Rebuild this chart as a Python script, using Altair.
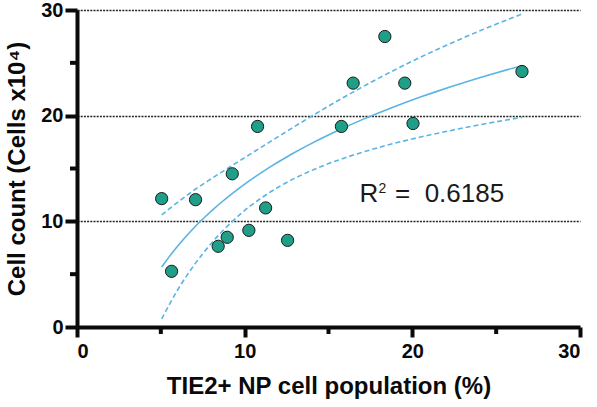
import altair as alt
import pandas as pd

# Data points
x_pct = [5.05, 5.64, 7.07, 9.26, 8.42, 8.96, 10.25, 10.77, 11.25, 12.56,
         15.77, 16.47, 18.36, 19.55, 20.04, 26.54]
cells = [12.15, 5.27, 12.05, 14.5, 7.64, 8.49, 9.15, 18.98, 11.27, 8.2,
         18.98, 23.08, 27.49, 23.08, 19.26, 24.18]

# 95% confidence band
band_x = [5.05, 6, 7, 8, 9, 10, 11, 12, 14, 16, 18, 20, 22, 24, 26.54]
band_upper = [10.6, 11.8, 12.97, 14.02, 15.03, 16.03, 17.02, 18.01, 19.96,
              21.82, 23.55, 25.16, 26.64, 28.01, 29.62]
band_lower = [0.76, 3.5, 5.89, 7.9, 9.59, 11.03, 12.22, 13.23, 14.82,
              16.02, 16.99, 17.8, 18.5, 19.13, 19.84]

# Axis ticks
major_ticks = [0, 10, 20, 30]
minor_ticks = [5, 15, 25]

r2_main = "R"
r2_sup = "2"
r2_value = "=\u00a0\u00a00.6185"

FONT = "Liberation Sans"
LINE = "#5ab4e3"
DOT = "#1f9e88"
INK = "#0a0a0a"

pts = pd.DataFrame({"x": x_pct, "y": cells})
band = pd.DataFrame({"x": band_x, "upper": band_upper, "lower": band_lower})
minor = pd.DataFrame({"v": minor_ticks})

x_scale = alt.Scale(domain=[0, 30], nice=False, zero=False)
y_scale = alt.Scale(domain=[0, 30], nice=False, zero=False)

AX_STYLE = dict(
    domainColor=INK, domainWidth=4, tickColor=INK, tickWidth=4,
    labelFont=FONT, labelFontSize=20, labelFontWeight="bold", labelColor=INK,
    titleFont=FONT, titleFontSize=24, titleFontWeight="bold", titleColor=INK,
)

x_axis = alt.Axis(
    values=major_ticks,
    title="TIE2+ NP cell population (%)",
    grid=False,
    tickSize=10,
    labelPadding=4,
    titlePadding=13,
    **AX_STYLE,
)
y_axis = alt.Axis(
    values=major_ticks,
    title="Cell count (Cells x10\u2074)",
    grid=True,
    gridColor="#222222", gridWidth=1.5, gridDash=[2, 1.2],
    gridOpacity={"condition": {"test": "datum.value > 0", "value": 1}, "value": 0},
    tickSize=12,
    labelPadding=2,
    titlePadding=11,
    **AX_STYLE,
)

X = lambda f: alt.X(f, scale=x_scale, axis=x_axis)
Y = lambda f: alt.Y(f, scale=y_scale, axis=y_axis)

points = alt.Chart(pts).mark_point(
    filled=True, size=150, fill=DOT, stroke="#1a1a1a", strokeWidth=1, opacity=1
).encode(x=X("x:Q"), y=Y("y:Q"))

fit = alt.Chart(pts).transform_regression(
    "x", "y", method="log"
).mark_line(color=LINE, strokeWidth=1.6).encode(x=X("x:Q"), y=Y("y:Q"))

upper = alt.Chart(band).mark_line(
    color=LINE, strokeWidth=1.6, strokeDash=[5, 3], interpolate="monotone"
).encode(x=X("x:Q"), y=Y("upper:Q"))
lower = alt.Chart(band).mark_line(
    color=LINE, strokeWidth=1.6, strokeDash=[5, 3], interpolate="monotone"
).encode(x=X("x:Q"), y=Y("lower:Q"))

# minor ticks (short, unlabeled)
y_minor = alt.Chart(minor).mark_rule(color=INK, strokeWidth=4).encode(
    y=Y("v:Q"), x=alt.value(-7), x2=alt.value(0)
)
x_minor = alt.Chart(minor).mark_rule(color=INK, strokeWidth=4).encode(
    x=X("v:Q"), y=alt.value(317), y2=alt.value(324)
)

lab_df = pd.DataFrame({"a": [r2_main], "b": [r2_sup], "c": [r2_value]})
lab_main = alt.Chart(lab_df).mark_text(
    align="left", baseline="alphabetic", font=FONT, fontSize=26, color="#1a1a1a"
).encode(x=alt.datum(16.85), y=alt.datum(11.8), text="a:N")
lab_sup = alt.Chart(lab_df).mark_text(
    align="left", baseline="alphabetic", font=FONT, fontSize=14, color="#1a1a1a",
    dx=19, dy=-9
).encode(x=alt.datum(16.85), y=alt.datum(11.8), text="b:N")
lab_val = alt.Chart(lab_df).mark_text(
    align="left", baseline="alphabetic", font=FONT, fontSize=26, color="#1a1a1a",
    dx=35.5
).encode(x=alt.datum(16.85), y=alt.datum(11.8), text="c:N")

chart = alt.layer(
    upper, lower, fit, points, y_minor, x_minor, lab_main, lab_sup, lab_val
).properties(
    width=503, height=317,
    autosize=alt.AutoSizeParams(type="none"),
    padding={"left": 77, "top": 10, "right": 17, "bottom": 80},
).configure(background="white").configure_view(stroke=None)

chart.save("out.html", embed_options={"renderer": "svg", "actions": False})
